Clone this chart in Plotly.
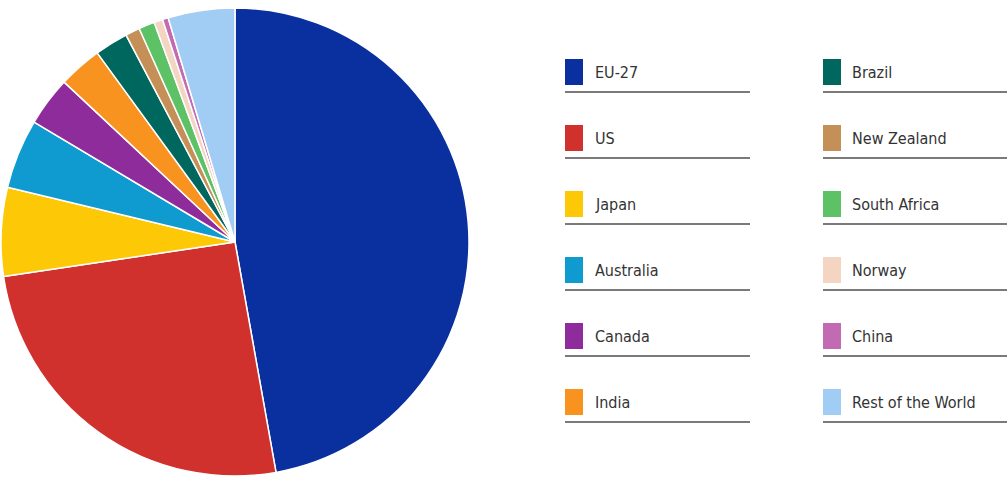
import plotly.graph_objects as go

# ---- data ----
countries = ["EU-27", "US", "Japan", "Australia", "Canada", "India",
             "Brazil", "New Zealand", "South Africa", "Norway", "China", "Rest of the World"]
shares = [47.1, 25.4, 6.1, 4.8, 3.4, 3.0, 2.3, 1.0, 1.1, 0.6, 0.4, 4.6]
colors = ["#0a2f9f", "#d0312d", "#fdc806", "#0f9bd0", "#8f2c9c", "#f7931e",
          "#00675f", "#c59058", "#5cc265", "#f4d5c1", "#c26bb2", "#a1ccf4"]

W, H = 1007, 480

fig = go.Figure()
fig.add_trace(go.Pie(
    labels=countries,
    values=shares,
    sort=False,
    direction="clockwise",
    rotation=0,
    marker=dict(colors=colors, line=dict(color="white", width=1.5)),
    textinfo="none",
    hoverinfo="label+percent",
    showlegend=False,
    domain=dict(x=[1 / W, 469 / W], y=[4 / H, 472 / H]),
))

# ---- custom two-column legend built from the data arrays ----
font_family = "Liberation Sans Narrow, DejaVu Sans Condensed, Arial Narrow, sans-serif"
shapes = []
annotations = []
rows_per_col = 6
col_specs = [  # (square left px, text left px, underline start px, underline end px)
    (565, 593, 565, 750),
    (823, 850, 823, 1007),
]
for i, (name, col) in enumerate(zip(countries, colors)):
    c = i // rows_per_col
    r = i % rows_per_col
    sq_x, tx_x, ul_x0, ul_x1 = col_specs[c]
    cy = 72 + 66 * r
    shapes.append(dict(type="rect", xref="paper", yref="paper",
                       x0=sq_x / W, x1=(sq_x + 18) / W,
                       y0=1 - (cy + 13) / H, y1=1 - (cy - 13) / H,
                       fillcolor=col, line=dict(width=0)))
    shapes.append(dict(type="line", xref="paper", yref="paper",
                       x0=ul_x0 / W, x1=ul_x1 / W,
                       y0=1 - (cy + 20) / H, y1=1 - (cy + 20) / H,
                       line=dict(color="#7a7a7a", width=2)))
    annotations.append(dict(text=name, xref="paper", yref="paper",
                            x=tx_x / W, y=1 - cy / H, xanchor="left", yanchor="middle",
                            showarrow=False,
                            font=dict(family=font_family, size=16, color="#333333")))

fig.update_layout(
    width=W, height=H,
    margin=dict(l=0, r=0, t=0, b=0),
    paper_bgcolor="white",
    plot_bgcolor="white",
    shapes=shapes,
    annotations=annotations,
)

fig.write_html("out.html", config={"displayModeBar": False},
               post_script="document.body.style.margin='0';")
